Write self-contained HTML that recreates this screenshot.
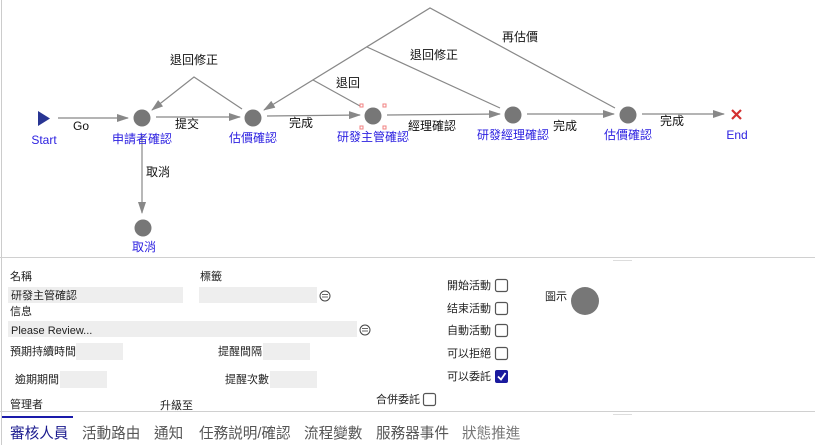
<!DOCTYPE html>
<html><head><meta charset="utf-8"><style>
body{margin:0;background:#fff;}
svg{display:block;font-family:"Liberation Sans","Noto Sans CJK TC",sans-serif;}
</style></head><body>
<svg width="815" height="445" viewBox="0 0 815 445" xmlns="http://www.w3.org/2000/svg">
<defs><marker id="a" markerWidth="12" markerHeight="8" refX="11" refY="4" orient="auto" markerUnits="userSpaceOnUse"><path d="M0,0 L12,4 L0,8 z" fill="#888"/></marker></defs>
<line x1="1.5" y1="0" x2="1.5" y2="445" stroke="#ccc"/>
<line x1="0" y1="257.5" x2="815" y2="257.5" stroke="#d0d0d0"/>
<line x1="613" y1="260.5" x2="632" y2="260.5" stroke="#ddd"/>
<g stroke="#888" stroke-width="1.2" fill="none">
<line x1="58" y1="118" x2="128" y2="118" marker-end="url(#a)"/>
<line x1="156" y1="117" x2="240" y2="117" marker-end="url(#a)"/>
<line x1="267" y1="116" x2="360" y2="115" marker-end="url(#a)"/>
<line x1="387" y1="115" x2="500" y2="114" marker-end="url(#a)"/>
<line x1="527" y1="114" x2="614" y2="114" marker-end="url(#a)"/>
<line x1="642" y1="114" x2="724" y2="114" marker-end="url(#a)"/>
<line x1="142" y1="135" x2="142" y2="213" marker-end="url(#a)"/>
<polyline points="242,109 194,77 152,110" marker-end="url(#a)"/>
<polyline points="360,106 313,80" />
<polyline points="500,108 367,47"/>
<polyline points="615,108 430,8 264,110" marker-end="url(#a)"/>
</g>
<polygon points="38,111 50,118.5 38,126" fill="#283593"/>
<g fill="#777">
<circle cx="142" cy="118" r="8.5"/><circle cx="253" cy="118" r="8.5"/><circle cx="373" cy="116" r="8.5"/><circle cx="513" cy="115" r="8.5"/><circle cx="628" cy="115" r="8.5"/><circle cx="143" cy="228" r="8.5"/>
<circle cx="585" cy="301" r="14"/>
</g>
<g fill="none" stroke="#f08080"><rect x="360" y="104" width="3" height="3"/><rect x="383" y="104" width="3" height="3"/><rect x="360" y="126" width="3" height="3"/><rect x="383" y="126" width="3" height="3"/></g>
<g stroke="#d32f2f" stroke-width="2.2"><line x1="732" y1="110" x2="741" y2="119"/><line x1="741" y1="110" x2="732" y2="119"/></g>
<g fill="#2a1ee0" font-size="12" text-anchor="middle">
<text x="44" y="144">Start</text><text x="142" y="143">申請者確認</text><text x="253" y="142">估價確認</text><text x="373" y="141">研發主管確認</text><text x="513" y="139">研發經理確認</text><text x="628" y="139">估價確認</text><text x="737" y="139">End</text><text x="144" y="251">取消</text>
</g>
<g fill="#111" font-size="12" text-anchor="middle">
<text x="81" y="130">Go</text><text x="187" y="128">提交</text><text x="301" y="127">完成</text><text x="432" y="130">經理確認</text><text x="565" y="130">完成</text><text x="672" y="125">完成</text><text x="158" y="176">取消</text><text x="194" y="64">退回修正</text><text x="348" y="87">退回</text><text x="434" y="59">退回修正</text><text x="520" y="41">再估價</text>
</g>
<g fill="#222" font-size="11">
<text x="10" y="280">名稱</text><text x="200" y="280">標籤</text><text x="10" y="315">信息</text>
<text x="10" y="355">預期持續時間</text><text x="218" y="355">提醒間隔</text><text x="15" y="383">逾期期間</text><text x="225" y="383">提醒次數</text>
<text x="10" y="408">管理者</text><text x="160" y="409">升級至</text><text x="376" y="403">合併委託</text><text x="545" y="300">圖示</text>
</g>
<g fill="#eee">
<rect x="8" y="287" width="175" height="16"/><rect x="199" y="287" width="118" height="16"/><rect x="8" y="321" width="349" height="16"/>
<rect x="76" y="343" width="47" height="17"/><rect x="263" y="343" width="47" height="17"/><rect x="60" y="371" width="47" height="17"/><rect x="270" y="371" width="47" height="17"/>
</g>
<g fill="#222" font-size="11"><text x="11" y="299">研發主管確認</text><text x="11" y="334">Please Review...</text></g>
<g fill="none" stroke="#444" stroke-width="1"><circle cx="325" cy="296" r="5"/><circle cx="365" cy="330" r="5"/></g>
<g stroke="#444" stroke-width="0.8"><line x1="322" y1="294.5" x2="328" y2="294.5"/><line x1="322" y1="297" x2="328" y2="297"/><line x1="362" y1="328.5" x2="368" y2="328.5"/><line x1="362" y1="331" x2="368" y2="331"/></g>
<g fill="#222" font-size="11" text-anchor="end">
<text x="491" y="289">開始活動</text><text x="491" y="312">结束活動</text><text x="491" y="334">自動活動</text><text x="491" y="357">可以拒絕</text><text x="491" y="380">可以委託</text>
</g>
<g fill="#fff" stroke="#555" stroke-width="1.2">
<rect x="495.5" y="279.5" width="12" height="12" rx="2"/><rect x="495.5" y="302.5" width="12" height="12" rx="2"/><rect x="495.5" y="324.5" width="12" height="12" rx="2"/><rect x="495.5" y="347.5" width="12" height="12" rx="2"/><rect x="423.5" y="393.5" width="12" height="12" rx="2"/>
</g>
<rect x="495" y="370" width="13" height="13" rx="2" fill="#1a1a9e"/>
<polyline points="498,376.5 501,379.5 505.5,373" fill="none" stroke="#fff" stroke-width="1.8"/>
<line x1="0" y1="411.5" x2="815" y2="411.5" stroke="#d0d0d0"/>
<line x1="613" y1="414.5" x2="632" y2="414.5" stroke="#ddd"/>
<rect x="2" y="416" width="71" height="2" fill="#1a1aaa"/>
<g font-size="14.6" fill="#555">
<text x="10" y="438" fill="#1a1a8e">審核人員</text><text x="82" y="438">活動路由</text><text x="154" y="438">通知</text><text x="199" y="438">任務説明/確認</text><text x="304" y="438">流程變數</text><text x="376" y="438">服務器事件</text><text x="462" y="438" fill="#777">狀態推進</text>
</g>
</svg>
</body></html>
